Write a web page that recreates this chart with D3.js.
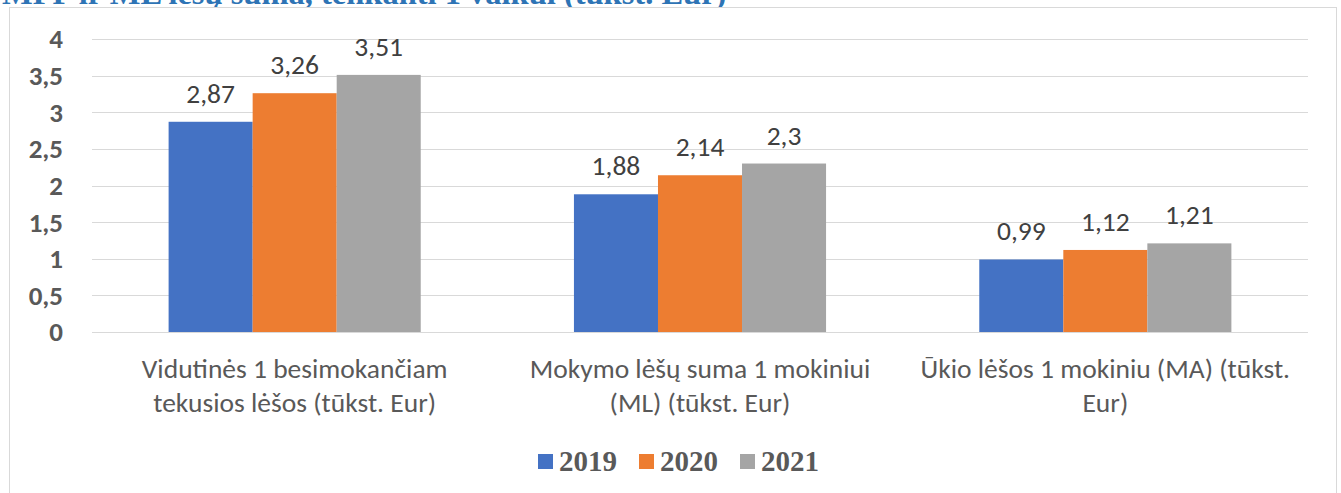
<!DOCTYPE html>
<html><head><meta charset="utf-8">
<script src="https://cdn.jsdelivr.net/npm/d3@7"></script>
<style>body{margin:0;background:#fff}svg{display:block}</style>
</head><body>
<script>
const categories = [
  ["Vidutinės 1 besimokančiam", "tekusios lėšos (tūkst. Eur)"],
  ["Mokymo lėšų suma 1 mokiniui", "(ML) (tūkst. Eur)"],
  ["Ūkio lėšos 1 mokiniu (MA) (tūkst.", "Eur)"]
];
const seriesNames = ["2019", "2020", "2021"];
const values2019 = [2.87, 1.88, 0.99];
const values2020 = [3.26, 2.14, 1.12];
const values2021 = [3.51, 2.3, 1.21];
const yTicks = [0, 0.5, 1, 1.5, 2, 2.5, 3, 3.5, 4];
const colors = ["#4472C4", "#ED7D31", "#A5A5A5"];
const titleText = "MFP ir ML lėšų suma, tenkanti 1 vaikui (tūkst. Eur)";

const W = 1341, H = 493;
const svg = d3.select("body").append("svg").attr("width", W).attr("height", H);
const fmt = v => String(v).replace(".", ",");
const font = "Carlito, Calibri, Lato, sans-serif";

// title (cut off at the top edge, as in the source)
svg.append("text").attr("x", 2).attr("y", 4)
  .attr("font-family", "'Liberation Serif', serif").attr("font-weight", "bold")
  .attr("font-size", 32.5).attr("fill", "#2E74B5").text(titleText);

// chart border
svg.append("rect").attr("x", 9.5).attr("y", 7.5).attr("width", 1327).attr("height", 495)
  .attr("fill", "#fff").attr("stroke", "#D9D9D9");

const x0 = d3.scaleBand().domain(d3.range(categories.length)).range([92, 1308])
  .paddingInner(0.378).paddingOuter(0.189);
const x1 = d3.scaleBand().domain(seriesNames).range([0, x0.bandwidth()]);
const y = d3.scaleLinear().domain([0, 4]).range([332, 39]);

// grid
svg.append("g").selectAll("line").data(yTicks).join("line")
  .attr("x1", 92).attr("x2", 1308)
  .attr("y1", d => Math.round(y(d)) + 0.5).attr("y2", d => Math.round(y(d)) + 0.5)
  .attr("stroke", "#D9D9D9").attr("stroke-width", 1);

// y tick labels
svg.append("g").selectAll("text").data(yTicks).join("text")
  .attr("x", 63).attr("y", d => y(d)).attr("dy", "0.35em").attr("text-anchor", "end")
  .attr("font-family", font).attr("font-weight", "bold").attr("font-size", 27)
  .attr("fill", "#595959").text(fmt);

const series = [values2019, values2020, values2021];
const data = [];
categories.forEach((c, i) => series.forEach((s, j) => data.push({i, j, v: s[i]})));

svg.append("g").selectAll("rect").data(data).join("rect")
  .attr("x", d => x0(d.i) + x1(seriesNames[d.j]))
  .attr("width", x1.bandwidth())
  .attr("y", d => y(d.v)).attr("height", d => y(0) - y(d.v))
  .attr("fill", d => colors[d.j]);

svg.append("g").selectAll("text").data(data).join("text")
  .attr("x", d => x0(d.i) + x1(seriesNames[d.j]) + x1.bandwidth() / 2)
  .attr("y", d => y(d.v) - 19).attr("text-anchor", "middle")
  .attr("font-family", font).attr("font-size", 27.5).attr("fill", "#404040")
  .text(d => fmt(d.v));

// category labels
const cat = svg.append("g").selectAll("text").data(categories).join("text")
  .attr("text-anchor", "middle")
  .attr("font-family", font).attr("font-size", 27.5).attr("fill", "#595959");
cat.each(function(d, i) {
  const t = d3.select(this);
  d.forEach((line, k) => t.append("tspan").attr("x", x0(i) + x0.bandwidth() / 2)
    .attr("y", 378 + k * 34).text(line));
});

// legend
const legX = [538, 639, 740];
const leg = svg.append("g").selectAll("g").data(seriesNames).join("g");
leg.append("rect").attr("x", (d, i) => legX[i]).attr("y", 454).attr("width", 15).attr("height", 15)
  .attr("fill", (d, i) => colors[i]);
leg.append("text").attr("x", (d, i) => legX[i] + 21).attr("y", 471)
  .attr("font-family", "'Liberation Serif', 'Times New Roman', serif").attr("font-weight", "bold")
  .attr("font-size", 29).attr("fill", "#595959").text(d => d);
</script>
</body></html>
